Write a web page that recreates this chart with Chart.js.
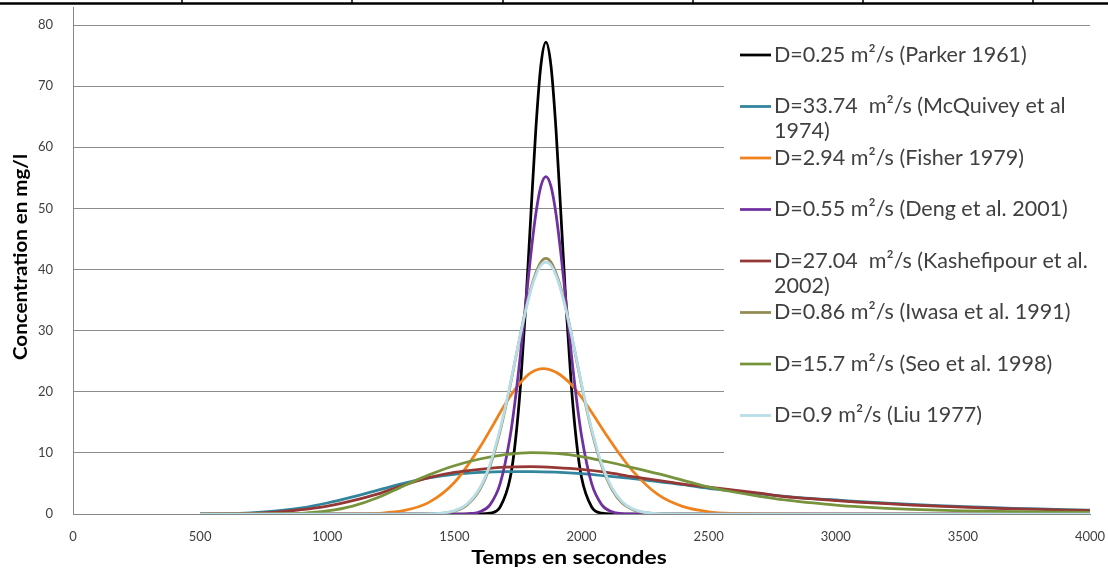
<!DOCTYPE html>
<html>
<head>
<meta charset="utf-8">
<script src="https://cdn.jsdelivr.net/npm/chart.js@4.4.1/dist/chart.umd.min.js"></script>
<style>
  html, body { margin: 0; padding: 0; background: #fff; }
</style>
</head>
<body>
<canvas id="chart" width="1108" height="569"></canvas>
<script>
// Time samples (s) for each group of curves
const tNarrow = [500, 1000, 1300, 1400, 1450, 1500, 1550, 1600, 1640, 1680, 1720, 1740, 1760, 1780, 1800, 1820, 1840, 1860, 1880, 1900, 1920, 1940, 1960, 1980, 2000, 2040, 2080, 2120, 2160, 2200, 2250, 2300, 2400, 3000, 4000];
const tOrange = [500, 1000, 1100, 1200, 1300, 1400, 1500, 1600, 1650, 1700, 1750, 1800, 1850, 1900, 1950, 2000, 2050, 2100, 2150, 2200, 2300, 2400, 2500, 2600, 2700, 3000, 4000];
const tBroad = [500, 600, 700, 800, 900, 1000, 1100, 1200, 1300, 1400, 1500, 1600, 1700, 1800, 1900, 2000, 2100, 2200, 2300, 2400, 2500, 2600, 2700, 2800, 2900, 3000, 3100, 3200, 3300, 3400, 3500, 3600, 3700, 3800, 3900, 4000];

// Concentrations (mg/l)
const parker = [0, 0, 0, 0, 0, 0, 0, 0.01, 0.14, 1.14, 6.0, 11.9, 21.0, 33.6, 48.3, 62.7, 73.3, 77.2, 73.3, 62.7, 48.3, 33.6, 21.0, 11.9, 6.0, 1.14, 0.14, 0.01, 0, 0, 0, 0, 0, 0, 0];
const mcquivey = [0, 0.05, 0.2, 0.5, 1.0, 1.8, 2.8, 3.9, 5.0, 5.9, 6.5, 6.8, 6.95, 6.95, 6.85, 6.6, 6.2, 5.8, 5.3, 4.8, 4.2, 3.75, 3.3, 2.9, 2.55, 2.3, 2.02, 1.78, 1.57, 1.38, 1.22, 1.07, 0.94, 0.82, 0.72, 0.62];
const fisher = [0, 0, 0.02, 0.12, 0.54, 1.9, 5.15, 10.9, 14.4, 18.0, 21.0, 23.1, 23.8, 23.2, 21.6, 19.1, 16.0, 12.8, 9.8, 7.1, 3.2, 1.2, 0.37, 0.09, 0.02, 0, 0];
const deng = [0, 0, 0, 0, 0, 0, 0.04, 0.36, 1.5, 4.96, 12.85, 18.9, 26.2, 34.3, 42.2, 49.0, 53.6, 55.2, 53.6, 49.0, 42.2, 34.3, 26.2, 18.9, 12.85, 4.96, 1.5, 0.36, 0.07, 0.01, 0, 0, 0, 0, 0];
const kashefipour = [0, 0.02, 0.1, 0.3, 0.7, 1.3, 2.2, 3.3, 4.7, 5.95, 6.8, 7.3, 7.65, 7.75, 7.6, 7.3, 6.8, 6.1, 5.5, 4.9, 4.4, 3.9, 3.4, 2.85, 2.5, 2.2, 1.92, 1.68, 1.47, 1.28, 1.12, 0.98, 0.85, 0.74, 0.64, 0.55];
const iwasa = [0, 0, 0, 0.02, 0.12, 0.47, 1.5, 4.0, 7.8, 13.6, 21.1, 25.3, 29.4, 33.4, 36.8, 39.4, 41.2, 41.8, 41.2, 39.4, 36.8, 33.4, 29.4, 25.3, 21.1, 13.6, 7.8, 4.0, 1.8, 0.75, 0.21, 0.05, 0, 0, 0];
const seo = [0, 0, 0, 0.02, 0.12, 0.5, 1.3, 2.7, 4.6, 6.4, 7.9, 9.0, 9.7, 10.05, 9.9, 9.4, 8.55, 7.6, 6.6, 5.5, 4.4, 3.6, 2.9, 2.3, 1.85, 1.45, 1.15, 0.92, 0.75, 0.62, 0.52, 0.45, 0.39, 0.34, 0.3, 0.26];
const liu = [0, 0, 0, 0.03, 0.15, 0.53, 1.63, 4.25, 8.1, 13.9, 21.3, 25.4, 29.4, 33.2, 36.5, 39.0, 40.7, 41.2, 40.7, 39.0, 36.5, 33.2, 29.4, 25.4, 21.3, 13.9, 8.1, 4.25, 2.0, 0.85, 0.25, 0.06, 0, 0, 0];

const seriesNames = [
    'D=0.25 m²/s (Parker 1961)',
    'D=33.74  m²/s (McQuivey et al\n1974)',
    'D=2.94 m²/s (Fisher 1979)',
    'D=0.55 m²/s (Deng et al. 2001)',
    'D=27.04  m²/s (Kashefipour et al.\n2002)',
    'D=0.86 m²/s (Iwasa et al. 1991)',
    'D=15.7 m²/s (Seo et al. 1998)',
    'D=0.9 m²/s (Liu 1977)'
];
const seriesTimes = [tNarrow, tBroad, tOrange, tNarrow, tBroad, tNarrow, tBroad, tNarrow];
const seriesValues = [parker, mcquivey, fisher, deng, kashefipour, iwasa, seo, liu];
const seriesColors = ['#000000', '#31859c', '#f0821e', '#7030a0', '#953735', '#948a54', '#77933c', '#b7dde8'];

const xTitle = 'Temps en secondes';
const yTitle = 'Concentration en mg/l';

const FONT = 'Lato, "Open Sans", sans-serif';

function toPoints(times, values) {
    return times.map((t, i) => ({ x: t, y: values[i] }));
}

// Top rule of the surrounding table and y axis running up to it.
const pageFrame = {
    id: 'pageFrame',
    beforeDraw(chart) {
        const ctx = chart.ctx;
        const area = chart.chartArea;
        ctx.save();
        ctx.strokeStyle = '#000';
        ctx.lineWidth = 2.5;
        ctx.beginPath();
        ctx.moveTo(0, 3.5);
        ctx.lineTo(chart.width, 3.5);
        ctx.stroke();
        ctx.lineWidth = 1.5;
        [182, 352, 503, 693, 863, 1033].forEach(function (x) {
            ctx.beginPath();
            ctx.moveTo(x, 0);
            ctx.lineTo(x, 4);
            ctx.stroke();
        });
        ctx.strokeStyle = '#868686';
        ctx.lineWidth = 1;
        ctx.beginPath();
        ctx.moveTo(area.left + 0.5, 7);
        ctx.lineTo(area.left + 0.5, area.top);
        ctx.stroke();
        ctx.restore();
    }
};

// Axis titles, slightly widened like the Calibri originals.
const axisTitles = {
    id: 'axisTitles',
    afterDraw(chart) {
        const ctx = chart.ctx;
        ctx.save();
        ctx.fillStyle = '#000';
        ctx.textAlign = 'center';
        ctx.textBaseline = 'middle';
        ctx.font = 'bold 19px ' + FONT;
        ctx.translate(569, 558);
        ctx.scale(1.2, 1);
        ctx.fillText(xTitle, 0, 0);
        ctx.restore();

        ctx.save();
        ctx.fillStyle = '#000';
        ctx.textAlign = 'center';
        ctx.textBaseline = 'middle';
        ctx.font = 'bold 18px ' + FONT;
        ctx.translate(21, 257);
        ctx.rotate(-Math.PI / 2);
        ctx.scale(1.14, 1);
        ctx.fillText(yTitle, 0, 0);
        ctx.restore();
    }
};

// Legend placed inside the plot, with wrapped labels like the original.
const sideLegend = {
    id: 'sideLegend',
    afterDraw(chart) {
        const ctx = chart.ctx;
        ctx.save();
        ctx.fillStyle = '#fff';
        ctx.fillRect(724, 32, 368, 426);
        ctx.font = '21.5px ' + FONT;
        ctx.textBaseline = 'middle';
        chart.data.datasets.forEach(function (ds, i) {
            const y = 55 + i * 51.5;
            ctx.strokeStyle = ds.borderColor;
            ctx.lineWidth = 2.75;
            ctx.beginPath();
            ctx.moveTo(740, y);
            ctx.lineTo(771, y);
            ctx.stroke();
            ctx.fillStyle = '#404040';
            seriesNames[i].split('\n').forEach(function (line, k) {
                ctx.fillText(line, 774, y + k * 25);
            });
        });
        ctx.restore();
    }
};

const datasets = seriesNames.map(function (name, i) {
    return {
        label: name.replace('\n', ' '),
        data: toPoints(seriesTimes[i], seriesValues[i]),
        borderColor: seriesColors[i],
        backgroundColor: seriesColors[i],
        borderWidth: 2.75,
        pointRadius: 0,
        cubicInterpolationMode: 'monotone',
        fill: false,
        order: seriesNames.length - i
    };
});

new Chart(document.getElementById('chart'), {
    type: 'line',
    data: { datasets: datasets },
    options: {
        responsive: false,
        animation: false,
        devicePixelRatio: 1,
        layout: { padding: { top: 25, right: 18, left: 0, bottom: 0 } },
        plugins: {
            legend: { display: false },
            tooltip: { enabled: false }
        },
        scales: {
            x: {
                type: 'linear',
                min: 0,
                max: 4000,
                afterFit: function (scale) {
                    scale.height = 55;
                    scale.paddingLeft = 0;
                    scale.paddingRight = 0;
                },
                ticks: {
                    stepSize: 500,
                    maxRotation: 0,
                    padding: 7,
                    color: '#404040',
                    font: { family: FONT, size: 13 },
                    callback: function (v) { return String(v); }
                },
                grid: { display: false },
                border: { display: true, color: '#868686', width: 1 },
                title: { display: false }
            },
            y: {
                min: 0,
                max: 80,
                afterFit: function (scale) {
                    scale.width = 73;
                    scale.paddingTop = 0;
                    scale.paddingBottom = 0;
                },
                ticks: {
                    stepSize: 10,
                    padding: 20,
                    color: '#404040',
                    font: { family: FONT, size: 13 }
                },
                grid: { color: '#8c8c8c', lineWidth: 1, drawTicks: false },
                border: { display: true, color: '#868686', width: 1 },
                title: { display: false }
            }
        }
    },
    plugins: [pageFrame, axisTitles, sideLegend]
});
</script>
</body>
</html>
